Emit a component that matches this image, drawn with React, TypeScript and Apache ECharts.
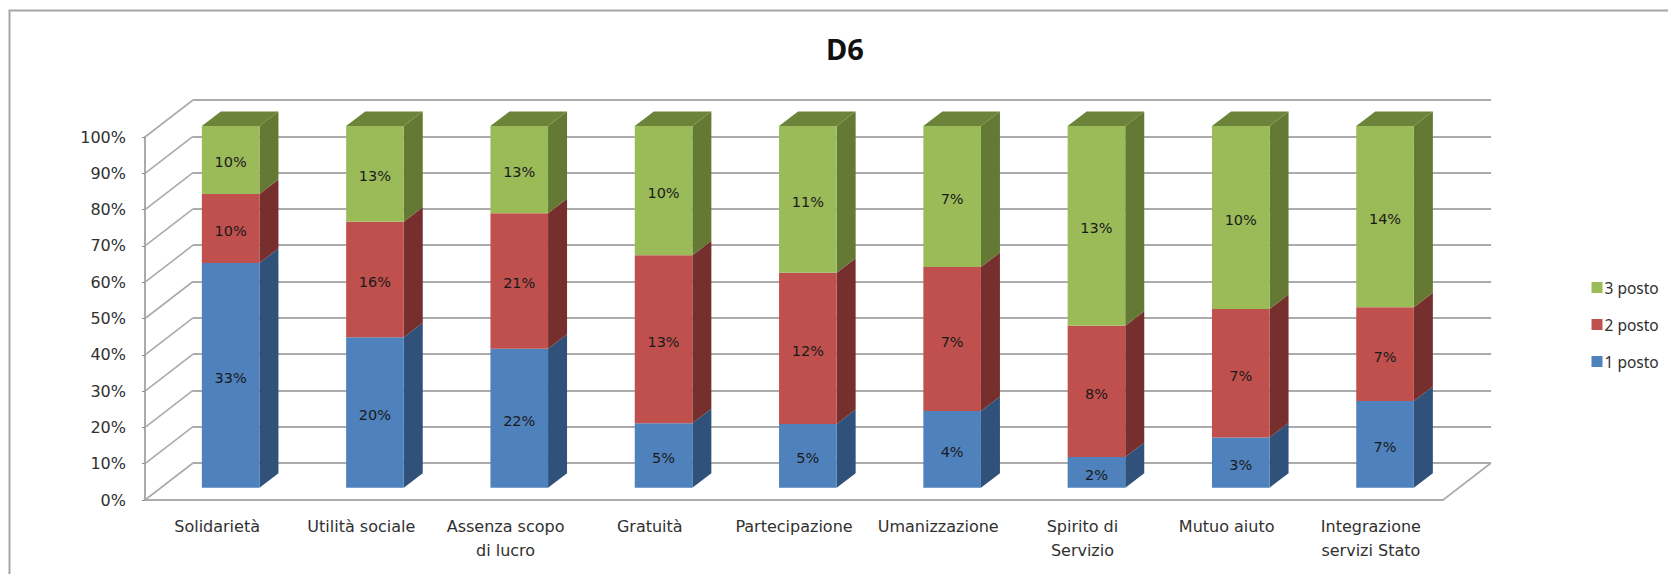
import React, { useEffect, useRef } from "react";
import * as echarts from "echarts";

const categories = [
  "Solidarietà",
  "Utilità sociale",
  "Assenza scopo\ndi lucro",
  "Gratuità",
  "Partecipazione",
  "Umanizzazione",
  "Spirito di\nServizio",
  "Mutuo aiuto",
  "Integrazione\nservizi Stato",
];
const seriesNames = ["1 posto", "2 posto", "3 posto"];
const yTicks = [0, 10, 20, 30, 40, 50, 60, 70, 80, 90, 100];

// Height of each segment, as a share of its 100% column
const share1 = [62.1, 41.6, 38.4, 17.8, 17.6, 21.2, 8.5, 13.9, 24.0];
const share2 = [19.1, 31.9, 37.5, 46.5, 41.8, 39.8, 36.3, 35.5, 25.9];
const share3 = [18.8, 26.5, 24.1, 35.7, 40.6, 39.0, 55.2, 50.6, 50.1];

// Printed data labels
const labels1 = ["33%", "20%", "22%", "5%", "5%", "4%", "2%", "3%", "7%"];
const labels2 = ["10%", "16%", "21%", "13%", "12%", "7%", "8%", "7%", "7%"];
const labels3 = ["10%", "13%", "13%", "10%", "11%", "7%", "13%", "10%", "14%"];

const FONT = '"Noto Sans", sans-serif';
const WIDE_FONT = '"DejaVu Sans", sans-serif';
const TEXT = "#303030";
const GRID_LINE = "#ababab";
const FRONT = ["#4f81bd", "#c0504d", "#9bbb59"];
const SIDE = ["#30527a", "#772f2d", "#637934"];
const TOP = "#6b8439";
const BAR_W = 57.6;
const BAR_DX = 19;
const BAR_DY = -14.5;
const WALL_DX = 48;
const WALL_DY = -37;

const shares = [share1, share2, share3];
const printed = [labels1, labels2, labels3];

function stackedRows(level: number) {
  return categories.map((_, i) => {
    let start = 0;
    for (let k = 0; k < level; k++) start += shares[k][i];
    return [i, start, start + shares[level][i], printed[level][i]];
  });
}

function barRender(level: number) {
  return (_params: any, api: any) => {
    const [cx, y0] = api.coord([api.value(0), api.value(1)]);
    const [, y1] = api.coord([api.value(0), api.value(2)]);
    const x0 = cx - BAR_W / 2;
    const x1 = cx + BAR_W / 2;
    const children: any[] = [
      {
        type: "polygon",
        shape: {
          points: [
            [x1, y0],
            [x1 + BAR_DX, y0 + BAR_DY],
            [x1 + BAR_DX, y1 + BAR_DY],
            [x1, y1],
          ],
        },
        style: { fill: SIDE[level] },
      },
      {
        type: "rect",
        shape: { x: x0, y: y1, width: BAR_W, height: y0 - y1 },
        style: { fill: FRONT[level] },
      },
    ];
    if (level === shares.length - 1) {
      children.push({
        type: "polygon",
        shape: {
          points: [
            [x0, y1],
            [x0 + BAR_DX, y1 + BAR_DY],
            [x1 + BAR_DX, y1 + BAR_DY],
            [x1, y1],
          ],
        },
        style: { fill: TOP },
      });
    }
    children.push({
      type: "text",
      style: {
        text: String(api.value(3)),
        x: cx,
        y: (y0 + y1) / 2 + 2.5,
        align: "center",
        verticalAlign: "middle",
        fill: "#1a1a1a",
        font: `14.5px ${WIDE_FONT}`,
      },
    });
    return { type: "group", children };
  };
}

export default function App() {
  const ref = useRef<HTMLDivElement>(null);

  useEffect(() => {
    document.body.style.margin = "0";
    const chart = echarts.init(ref.current!, undefined, { renderer: "svg" });
    const hiddenX = (gridIndex: number) => ({
      type: "category" as const,
      gridIndex,
      data: categories,
      show: false,
    });
    chart.setOption({
      animation: false,
      backgroundColor: "#ffffff",
      title: {
        text: "D6",
        left: 840,
        top: 29,
        textAlign: "center",
        textStyle: { fontFamily: FONT, fontSize: 29, fontWeight: "bold", color: "#111111" },
      },
      legend: {
        orient: "vertical",
        left: 1586.5,
        top: 274.5,
        itemWidth: 11,
        itemHeight: 11,
        itemGap: 21,
        icon: "rect",
        data: [...seriesNames].reverse(),
        textStyle: { fontFamily: FONT, fontSize: 15.5, color: TEXT, padding: [0, 0, 0, -3] },
      },
      grid: [
        { left: 145, top: 137, width: 1298, height: 363 },
        { left: 158.5, top: 126, width: 1298.7, height: 361.7 },
        { left: 193, top: 100, width: 1298, height: 363 },
      ],
      xAxis: [
        {
          type: "category",
          gridIndex: 0,
          data: categories,
          axisLine: { lineStyle: { color: GRID_LINE, width: 2 } },
          axisTick: { length: 7, lineStyle: { color: "#8c8c8c", width: 1 } },
          axisLabel: {
            interval: 0,
            margin: 14,
            fontFamily: WIDE_FONT,
            fontSize: 16,
            lineHeight: 24,
            color: TEXT,
          },
        },
        hiddenX(1),
        hiddenX(2),
      ],
      yAxis: [
        {
          type: "value",
          gridIndex: 0,
          min: 0,
          max: 100,
          interval: 10,
          axisLine: { show: true, lineStyle: { color: GRID_LINE, width: 2 } },
          axisTick: { show: true, length: 3, lineStyle: { color: "#8c8c8c", width: 1 } },
          splitLine: { show: false },
          axisLabel: {
            margin: 19,
            formatter: "{value}%",
            fontFamily: WIDE_FONT,
            fontSize: 16,
            padding: [4, 0, 0, 0],
            color: TEXT,
          },
        },
        { type: "value", gridIndex: 1, min: 0, max: 100, show: false },
        {
          type: "value",
          gridIndex: 2,
          min: 0,
          max: 100,
          interval: 10,
          axisLine: { show: false },
          axisTick: { show: false },
          axisLabel: { show: false },
          splitLine: { show: true, lineStyle: { color: GRID_LINE, width: 2 } },
        },
      ],
      series: [
        {
          type: "custom",
          name: "wall",
          xAxisIndex: 0,
          yAxisIndex: 0,
          silent: true,
          data: yTicks.map((v) => [0, v]),
          encode: { x: 0, y: 1 },
          renderItem: (params: any, api: any) => {
            const y = api.coord([0, api.value(1)])[1];
            const x = params.coordSys.x;
            return {
              type: "line",
              shape: { x1: x, y1: y, x2: x + WALL_DX, y2: y + WALL_DY },
              style: { stroke: GRID_LINE, lineWidth: 1.6, fill: "none" },
            };
          },
        },
        {
          type: "custom",
          name: "floor",
          xAxisIndex: 0,
          yAxisIndex: 0,
          silent: true,
          data: [[categories.length - 1, 0]],
          encode: { x: 0, y: 1 },
          renderItem: (params: any, api: any) => {
            const y = api.coord([0, api.value(1)])[1];
            const x = params.coordSys.x + params.coordSys.width;
            return {
              type: "line",
              shape: { x1: x, y1: y, x2: x + WALL_DX, y2: y + WALL_DY },
              style: { stroke: GRID_LINE, lineWidth: 1.6, fill: "none" },
            };
          },
        },
        ...seriesNames.map((name, level) => ({
          type: "custom",
          name,
          xAxisIndex: 1,
          yAxisIndex: 1,
          silent: true,
          itemStyle: { color: FRONT[level] },
          data: stackedRows(level),
          dimensions: ["cat", "start", "end", "label"],
          encode: { x: 0, y: [1, 2] },
          renderItem: barRender(level),
        })),
      ],
      graphic: [
        {
          type: "polyline",
          silent: true,
          shape: { points: [[9.5, 574], [9.5, 10.5], [1668, 10.5]] },
          style: { stroke: "#a6a6a6", lineWidth: 2, fill: "none" },
        },
      ],
    });
    return () => chart.dispose();
  }, []);

  return (
    <div
      ref={ref}
      style={{ position: "absolute", left: 0, top: 0, width: 1668, height: 574, background: "#fff" }}
    />
  );
}
